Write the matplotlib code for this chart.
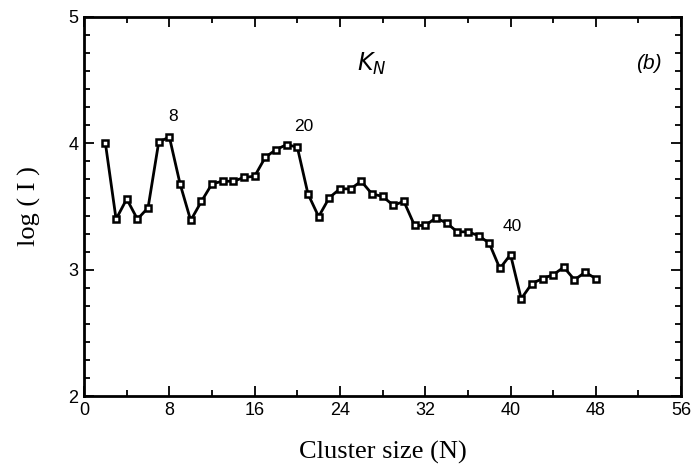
import matplotlib
matplotlib.use("Agg")
import matplotlib.pyplot as plt
from matplotlib.ticker import MultipleLocator

# Cluster sizes and log intensity for K_N clusters
cluster_size = list(range(2, 49))
log_intensity = [
    4.00, 3.40, 3.56, 3.40, 3.49, 4.01, 4.05, 3.68, 3.39, 3.54,
    3.68, 3.70, 3.70, 3.73, 3.74, 3.89, 3.95, 3.99, 3.97, 3.60,
    3.42, 3.57, 3.64, 3.64, 3.70, 3.60, 3.58, 3.51, 3.54, 3.35,
    3.35, 3.41, 3.37, 3.30, 3.30, 3.27, 3.21, 3.01, 3.12, 2.77,
    2.89, 2.93, 2.96, 3.02, 2.92, 2.98, 2.93,
]
magic_numbers = [8, 20, 40]
x_ticks = [0, 8, 16, 24, 32, 40, 48, 56]
y_ticks = [2, 3, 4, 5]

fig = plt.figure(figsize=(6.95, 4.71), dpi=100)
ax = fig.add_axes([0.121, 0.159, 0.859, 0.805])

ax.plot(cluster_size, log_intensity, color="black", lw=2.0,
        marker="s", markersize=4.6, markerfacecolor="white",
        markeredgecolor="black", markeredgewidth=1.8)

# Labels above the magic-number peaks
offsets = {8: (0.3, 0.16), 20: (0.6, 0.16), 40: (0.2, 0.22)}
for n in magic_numbers:
    v = log_intensity[cluster_size.index(n)]
    dx, dy = offsets[n]
    ax.text(n + dx, v + dy, str(n), ha="center", va="center",
            fontsize=12.5, family="Liberation Sans")

ax.text(27.0, 4.63, r"$K_N$", fontsize=17, ha="center", va="center",
        family="Liberation Sans",
        math_fontfamily="dejavusans")
ax.text(53.0, 4.63, "(b)", fontsize=15, style="italic", ha="center",
        va="center", family="Liberation Sans")

ax.set_xlim(0, 56)
ax.set_ylim(2, 5)
ax.set_xticks(x_ticks)
ax.set_yticks(y_ticks)
ax.xaxis.set_minor_locator(MultipleLocator(4))
ax.yaxis.set_minor_locator(MultipleLocator(1 / 7))

ax.tick_params(which="both", direction="in", top=True, right=True,
               width=1.3, labelsize=13)
ax.tick_params(which="major", length=7)
ax.tick_params(which="minor", length=4)
ax.tick_params(axis="x", pad=4)
ax.tick_params(axis="y", pad=4)
for lbl in ax.get_xticklabels() + ax.get_yticklabels():
    lbl.set_family("Liberation Sans")
for s in ax.spines.values():
    s.set_linewidth(2.0)

ax.set_xlabel("Cluster size (N)", family="Liberation Serif", fontsize=19,
              labelpad=16)
ax.set_ylabel("log ( I )", family="Liberation Serif", fontsize=19,
              labelpad=20)

fig.savefig("out.png", dpi=100)
